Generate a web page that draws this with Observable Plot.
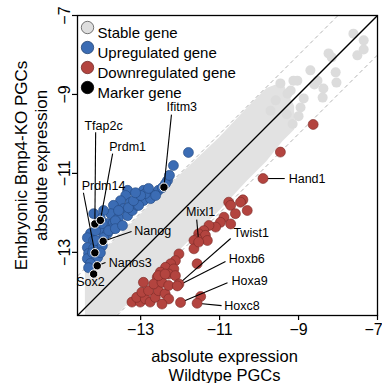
<!DOCTYPE html>
<html>
<head>
<meta charset="utf-8">
<script src="https://cdn.jsdelivr.net/npm/d3@7"></script>
<script src="https://cdn.jsdelivr.net/npm/@observablehq/plot@0.6"></script>
<style>
  html, body { margin: 0; padding: 0; background: #fff; }
  body { width: 382px; height: 383px; overflow: hidden; font-family: "Liberation Sans", Arial, sans-serif; }
</style>
</head>
<body>
<div id="chart"></div>
<script>
// ---------- data ----------
const xTicks = [-13, -11, -9, -7];
const yTicks = [-13, -11, -9, -7];
const legendLabels = ["Stable gene", "Upregulated gene", "Downregulated gene", "Marker gene"];
const legendColors = ["#dedede", "#3b6cb4", "#b3443f", "#000000"];

// dense cloud of stable genes (outline of the band)
const bandX    = [-14.4, -13.6, -12.0, -11.0, -10.3, -9.8, -9.4, -9.1];
const bandLow  = [-14.6, -14.6, -12.95, -11.95, -11.2, -10.7, -10.2, -9.9];
const bandHigh = [-13.45, -12.65, -11.05, -10.1, -9.35, -8.85, -8.7, -9.3];

// sparse stable genes
const stableX = [-7.61, -7.35, -7.35, -7.51, -8.24, -8.16, -8.70, -8.06, -9.03, -8.52, -8.37, -8.04, -9.46, -9.20, -8.87, -8.39, -8.95, -9.58, -9.71, -9.28, -9.30, -9.15, -9.00, -8.60, -9.13];
const stableY = [-7.46, -7.63, -7.86, -8.01, -7.96, -8.06, -8.39, -8.44, -8.65, -8.65, -8.85, -8.70, -8.72, -8.90, -9.10, -9.08, -9.33, -9.15, -9.41, -8.98, -9.50, -9.75, -9.55, -8.75, -8.65];

// upregulated genes
const upX = [-11.79, -12.17, -12.32, -12.55, -12.75, -12.93, -13.08, -13.33, -13.38, -13.26, -13.51, -13.69, -13.43, -13.76, -13.94, -14.02, -14.19, -13.84, -13.69, -13.56, -13.33, -13.21, -13.08, -12.93, -12.75, -14.02, -14.27, -14.35, -13.84, -13.71, -14.19, -14.35, -14.32, -14.35, -14.19, -14.02, -13.94, -14.09, -14.27, -14.32, -12.88, -12.62, -12.45, -13.05, -13.31, -13.56, -13.64, -13.97, -14.14, -13.81, -13.64, -13.46, -14.14, -13.97, -14.22, -14.02, -13.18, -13.00, -12.37, -12.27, -12.80, -13.13];
const upY = [-10.47, -10.80, -11.18, -11.43, -11.51, -11.43, -11.61, -11.43, -11.56, -11.74, -11.69, -11.81, -11.89, -12.02, -11.94, -12.14, -12.02, -12.27, -12.25, -12.12, -12.07, -11.94, -11.81, -11.69, -11.64, -12.45, -12.52, -12.63, -12.52, -12.40, -12.70, -12.88, -13.03, -13.16, -12.90, -12.75, -12.63, -13.13, -13.28, -13.39, -11.51, -11.56, -11.36, -11.81, -11.87, -11.94, -12.20, -12.27, -12.45, -12.45, -12.40, -12.32, -12.70, -12.83, -13.01, -13.01, -11.69, -11.56, -11.26, -11.05, -11.38, -11.49];

// downregulated genes
const downX = [-8.63, -9.46, -10.41, -10.47, -10.77, -10.72, -10.30, -10.60, -10.89, -10.98, -10.72, -11.10, -11.27, -11.40, -11.53, -11.36, -11.57, -11.31, -11.65, -11.65, -12.03, -12.12, -12.24, -11.57, -12.37, -12.16, -12.50, -12.29, -12.58, -11.48, -13.22, -13.01, -13.10, -12.88, -12.76, -12.63, -12.97, -12.80, -12.55, -12.38, -12.67, -12.46, -12.29, -12.55, -12.38, -12.12, -12.29, -12.46, -12.93];
const downY = [-9.76, -10.46, -11.67, -11.73, -11.73, -11.81, -11.94, -12.02, -12.11, -12.24, -12.28, -12.36, -12.32, -12.45, -12.53, -12.57, -12.66, -12.70, -12.70, -12.91, -13.04, -13.21, -13.29, -13.29, -13.38, -13.42, -13.50, -13.55, -13.63, -14.12, -14.26, -14.26, -14.14, -14.18, -14.26, -14.14, -14.01, -13.97, -13.97, -14.05, -13.80, -13.76, -13.84, -13.59, -13.55, -13.59, -14.18, -14.31, -13.76];

// labelled downregulated genes
const downGenes  = ["Mixl1", "Twist1", "Hoxb6", "Hoxa9", "Hoxc8", "Hand1"];
const downGeneX  = [-11.53, -12.03, -12.07, -11.99, -11.57, -9.90];
const downGeneY  = [-12.74, -13.80, -13.85, -14.27, -14.29, -11.13];

// marker genes
const markerGenes = ["Ifitm3", "Tfap2c", "Prdm1", "Prdm14", "Nanog", "Nanos3", "Sox2"];
const markerX     = [-12.41, -14.16, -14.02, -14.16, -13.95, -14.10, -14.19];
const markerY     = [-11.35, -12.28, -12.19, -13.01, -12.72, -13.34, -13.55];

// ---------- label layout (annotation positions, data units) ----------
const labelLayout = {
  Ifitm3: {tx: -11.96, ty: -9.33,  anchor: "middle", lx: -12.22, ly: -9.51},
  Tfap2c: {tx: -13.94, ty: -9.79,  anchor: "middle", lx: -14.14, ly: -9.96},
  Prdm1:  {tx: -13.33, ty: -10.34, anchor: "middle", lx: -13.71, ly: -10.50},
  Prdm14: {tx: -13.94, ty: -11.31, anchor: "middle", lx: -14.45, ly: -11.49},
  Nanog:  {tx: -13.16, ty: -12.47, anchor: "start",  lx: -13.23, ly: -12.47},
  Nanos3: {tx: -13.81, ty: -13.28, anchor: "start",  lx: -13.89, ly: -13.26},
  Sox2:   {tx: -14.27, ty: -13.74, anchor: "middle", lx: null,   ly: null},
  Mixl1:  {tx: -11.48, ty: -11.97, anchor: "middle", lx: -11.58, ly: -12.17},
  Twist1: {tx: -10.65, ty: -12.52, anchor: "start",  lx: -10.72, ly: -12.65},
  Hoxb6:  {tx: -10.77, ty: -13.16, anchor: "start",  lx: -10.85, ly: -13.23},
  Hoxa9:  {tx: -10.70, ty: -13.72, anchor: "start",  lx: -10.80, ly: -13.77},
  Hoxc8:  {tx: -10.88, ty: -14.35, anchor: "start",  lx: -10.95, ly: -14.35},
  Hand1:  {tx: -9.25,  ty: -11.13, anchor: "start",  lx: -9.35,  ly: -11.13}
};

// ---------- build tables ----------
const band = bandX.map((x, i) => ({x, lo: bandLow[i], hi: bandHigh[i]}));
const stable = stableX.map((x, i) => ({x, y: stableY[i]}));
const up = upX.map((x, i) => ({x, y: upY[i]}));
const down = downX.map((x, i) => ({x, y: downY[i]}));
const downLab = downGenes.map((g, i) => ({gene: g, x: downGeneX[i], y: downGeneY[i]}));
const markers = markerGenes.map((g, i) => ({gene: g, x: markerX[i], y: markerY[i]}));
const labelled = [...markers, ...downLab].map(d => ({...d, ...labelLayout[d.gene]}));
const leaders = labelled.filter(d => d.lx != null);

const dom = [-14.6, -7];
const refLines = [-1, 0, 1].map(o => ({o, x1: dom[0], y1: dom[0] + o, x2: dom[1], y2: dom[1] + o}));

const font = "Liberation Sans, Arial, sans-serif";

const legendMarks = legendLabels.flatMap((lab, i) => [
  Plot.dot([lab], {frameAnchor: "top-left", dx: 10, dy: 12 + i * 20, r: 6.2,
    fill: legendColors[i], stroke: i === 0 ? "#555" : (i === 3 ? "#000" : d3.color(legendColors[i]).darker(1.2).formatHex()),
    strokeWidth: 0.8}),
  Plot.text([lab], {frameAnchor: "top-left", dx: 20, dy: 12 + i * 20, text: d => d,
    textAnchor: "start", fontSize: 15, fill: "#000"})
]);

const chart = Plot.plot({
  width: 382,
  height: 383,
  marginLeft: 77,
  marginRight: 5,
  marginTop: 15,
  marginBottom: 68,
  style: {fontFamily: font, background: "#fff"},
  x: {domain: dom, ticks: xTicks, label: null},
  y: {domain: dom, ticks: yTicks, label: null},
  marks: [
    Plot.areaY(band, {x: "x", y1: "lo", y2: "hi", fill: "#e2e2e2", curve: "linear"}),
    Plot.dot(stable, {x: "x", y: "y", r: 5, fill: "#dcdcdc"}),
    Plot.link(refLines.filter(d => d.o !== 0), {x1: "x1", y1: "y1", x2: "x2", y2: "y2",
      stroke: "#b4b4b4", strokeWidth: 1, strokeDasharray: "4,3", clip: true}),
    Plot.link(refLines.filter(d => d.o === 0), {x1: "x1", y1: "y1", x2: "x2", y2: "y2",
      stroke: "#000", strokeWidth: 1.3, clip: true}),
    Plot.dot(up, {x: "x", y: "y", r: 5, fill: "#3b6cb4", stroke: "#24487f", strokeWidth: 0.6}),
    Plot.dot(down, {x: "x", y: "y", r: 5, fill: "#b3443f", stroke: "#7a2a27", strokeWidth: 0.6}),
    Plot.link(leaders, {x1: "lx", y1: "ly", x2: "x", y2: "y", stroke: "#000", strokeWidth: 1.1}),
    Plot.dot(downLab, {x: "x", y: "y", r: 5, fill: "#b3443f", stroke: "#7a2a27", strokeWidth: 0.6}),
    Plot.dot(markers, {x: "x", y: "y", r: 4.2, fill: "#000", stroke: "#fff", strokeWidth: 1}),
    Plot.text(labelled.filter(d => d.anchor === "start"), {x: "tx", y: "ty", text: "gene", textAnchor: "start", fontSize: 12.5, fill: "#000"}),
    Plot.text(labelled.filter(d => d.anchor === "middle"), {x: "tx", y: "ty", text: "gene", textAnchor: "middle", fontSize: 12.5, fill: "#000"}),
    Plot.frame({stroke: "#000", strokeWidth: 1.3}),
    Plot.axisX({ticks: xTicks.filter(t => t !== -7), tickSize: 5, tickPadding: 3, fontSize: 16, label: null, strokeWidth: 1.2}),
    Plot.axisX({ticks: [-7], tickSize: 5, text: null, label: null, strokeWidth: 1.2}),
    Plot.axisX({ticks: [-7], tickSize: 0, tickPadding: 8, fontSize: 16, label: null, dx: -4}),
    Plot.axisY({ticks: yTicks, tickSize: 5, tickPadding: 3, fontSize: 16, label: null, tickRotate: -90, strokeWidth: 1.2}),
    Plot.text(["absolute expression\nWildtype PGCs"], {frameAnchor: "bottom", dy: 50, dx: -3, text: d => d,
      lineAnchor: "middle", lineHeight: 1.12, fontSize: 16.5, fill: "#000"}),
    Plot.text(["Embryonic Bmp4-KO PGCs\nabsolute expression"], {frameAnchor: "left", dx: -47, text: d => d,
      rotate: -90, textAnchor: "middle", lineAnchor: "middle", lineHeight: 1.15, fontSize: 17, fill: "#000"}),
    ...legendMarks
  ]
});
document.getElementById("chart").appendChild(chart);
</script>
</body>
</html>
